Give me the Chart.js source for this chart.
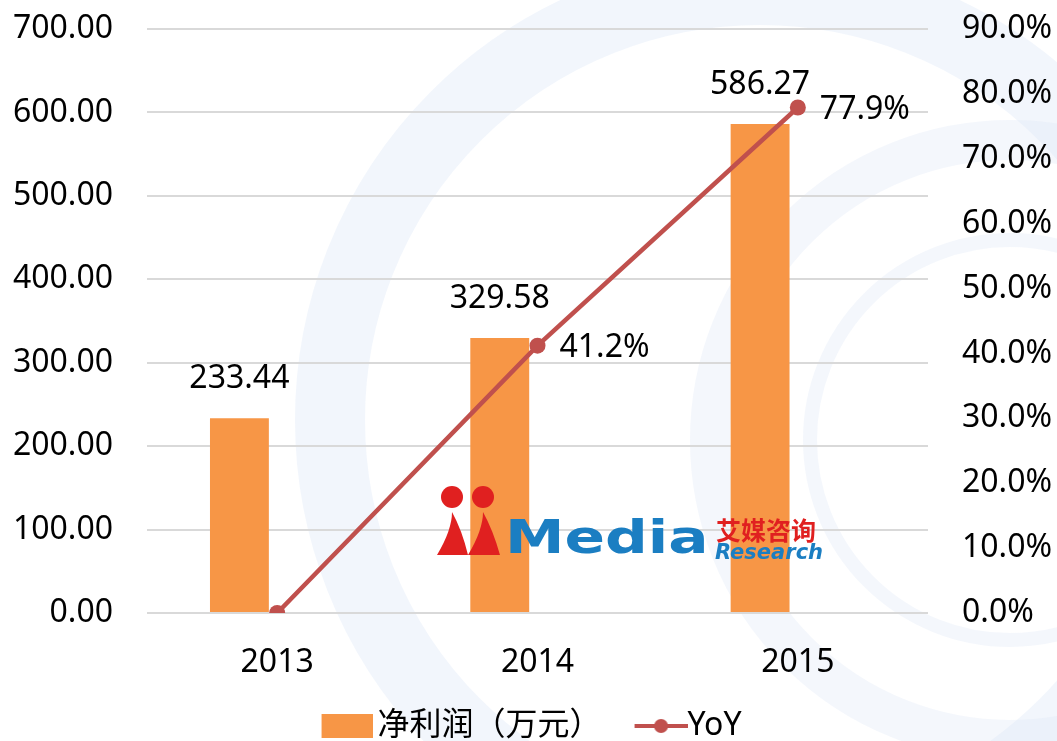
<!DOCTYPE html>
<html>
<head>
<meta charset="utf-8">
<script src="https://cdn.jsdelivr.net/npm/chart.js@4"></script>
<style>
  html, body { margin: 0; padding: 0; background: #fff; }
  #wrap { width: 1057px; height: 741px; }
</style>
</head>
<body>
<div id="wrap"><canvas id="myChart" width="1057" height="741"></canvas></div>
<script>
// 数据
const years = ['2013', '2014', '2015'];
const profit = [233.44, 329.58, 586.27];   // 净利润（万元）
const yoy = [0, 41.2, 77.9];               // YoY %
const leftTicks = [0, 700, 100];
const rightTicks = [0, 90, 10];

const FONT = '"Noto Sans", "Noto Sans CJK SC", sans-serif';
const ORANGE = '#F79646';
const RED = '#C0504D';

// legend icons (drawn a bit off-centre so the gaps match)
function makeBox() {
    const c = document.createElement('canvas');
    c.width = 68; c.height = 24;
    const g = c.getContext('2d');
    g.fillStyle = ORANGE;
    g.fillRect(17, 0, 51, 24);
    return c;
}
function makeLineIcon() {
    const c = document.createElement('canvas');
    c.width = 78; c.height = 18;
    const g = c.getContext('2d');
    g.strokeStyle = RED; g.lineWidth = 4;
    g.beginPath(); g.moveTo(25, 9); g.lineTo(78, 9); g.stroke();
    g.fillStyle = RED;
    g.beginPath(); g.arc(51.5, 9, 7, 0, Math.PI * 2); g.fill();
    return c;
}
const boxIcon = makeBox();
const lineIcon = makeLineIcon();

// 背景水印
const bgPlugin = {
    id: 'bg',
    beforeInit(chart) {
        const fit = chart.legend.fit;
        chart.legend.fit = function () {
            fit.call(this);
            this.height = 55;
        };
    },
    beforeDraw(chart) {
        const ctx = chart.ctx;
        ctx.save();
        ctx.fillStyle = '#fff';
        ctx.fillRect(0, 0, chart.width, chart.height);
        ctx.strokeStyle = 'rgba(218,230,245,0.35)';
        ctx.lineWidth = 70;
        ctx.beginPath(); ctx.arc(760, 420, 430, 0, Math.PI * 2); ctx.stroke();
        ctx.lineWidth = 40;
        ctx.strokeStyle = 'rgba(218,230,245,0.3)';
        ctx.beginPath(); ctx.arc(1010, 440, 300, 0, Math.PI * 2); ctx.stroke();
        ctx.lineWidth = 14;
        ctx.beginPath(); ctx.arc(1010, 440, 200, 0, Math.PI * 2); ctx.stroke();
        ctx.restore();
    }
};

// 数据标签 + logo
const labelPlugin = {
    id: 'labels',
    afterDatasetsDraw(chart) {
        const ctx = chart.ctx;
        ctx.save();
        // logo
        ctx.fillStyle = '#E02020';
        ctx.beginPath(); ctx.arc(452, 497, 11, 0, Math.PI * 2); ctx.fill();
        ctx.beginPath(); ctx.arc(483, 497, 11, 0, Math.PI * 2); ctx.fill();
        ctx.beginPath();
        ctx.moveTo(437, 555); ctx.quadraticCurveTo(452, 530, 452, 512);
        ctx.quadraticCurveTo(462, 530, 468, 555); ctx.closePath(); ctx.fill();
        ctx.beginPath();
        ctx.moveTo(468, 555); ctx.quadraticCurveTo(483, 530, 483, 512);
        ctx.quadraticCurveTo(493, 530, 500, 555); ctx.closePath(); ctx.fill();
        ctx.save();
        ctx.translate(505, 553);
        ctx.scale(1.3, 1);
        ctx.fillStyle = '#1B7EC2';
        ctx.font = 'bold 46px "DejaVu Sans", sans-serif';
        ctx.textBaseline = 'alphabetic';
        ctx.fillText('Media', 0, 0);
        ctx.restore();
        ctx.fillStyle = '#E02020';
        ctx.font = 'bold 25px "Noto Sans CJK SC", sans-serif';
        ctx.fillText('艾媒咨询', 716, 530);
        ctx.fillStyle = '#1B7EC2';
        ctx.font = 'italic bold 21px "DejaVu Sans", sans-serif';
        ctx.fillText('Research', 715, 554);

        // values
        ctx.fillStyle = '#000';
        ctx.font = '32px ' + FONT;
        const barMeta = chart.getDatasetMeta(0);
        ctx.textAlign = 'center';
        ctx.textBaseline = 'middle';
        barMeta.data.forEach((el, i) => {
            ctx.fillText(profit[i].toFixed(2), el.x, el.y - 39);
        });
        const lineMeta = chart.getDatasetMeta(2);
        ctx.textAlign = 'left';
        lineMeta.data.forEach((el, i) => {
            if (yoy[i] === 0) return;
            ctx.fillText(yoy[i].toFixed(1) + '%', el.x + 22, el.y + 2);
        });
        ctx.restore();
    }
};

const ctx = document.getElementById('myChart');
new Chart(ctx, {
    data: {
        labels: years,
        datasets: [
            {
                type: 'bar',
                label: '净利润（万元）',
                data: profit,
                backgroundColor: ORANGE,
                yAxisID: 'y',
                order: 2
            },
            {
                type: 'bar',
                label: '',
                data: years.map(() => null),
                backgroundColor: 'rgba(0,0,0,0)',
                yAxisID: 'y',
                order: 3
            },
            {
                type: 'line',
                label: 'YoY',
                data: yoy,
                borderColor: RED,
                backgroundColor: RED,
                borderWidth: 4.5,
                pointRadius: 8,
                pointHoverRadius: 8,
                pointBackgroundColor: RED,
                pointBorderWidth: 0,
                tension: 0,
                yAxisID: 'y1',
                order: 1
            }
        ]
    },
    options: {
        responsive: false,
        animation: false,
        datasets: {
            bar: { categoryPercentage: 0.58, barPercentage: 0.78 }
        },
        layout: { padding: { top: 29, left: 0, right: 0, bottom: 0 } },
        plugins: {
            tooltip: { enabled: false },
            legend: {
                position: 'bottom',
                labels: {
                    color: '#000',
                    font: { size: 32, family: FONT },
                    usePointStyle: true,
                    pointStyleWidth: 46,
                    boxHeight: 24,
                    padding: 24,
                    generateLabels() {
                        return [
                            { text: '净利润（万元）', pointStyle: boxIcon, fillStyle: ORANGE, strokeStyle: ORANGE, lineWidth: 0, datasetIndex: 0, fontColor: '#000' },
                            { text: 'YoY', pointStyle: lineIcon, fillStyle: RED, strokeStyle: RED, lineWidth: 0, datasetIndex: 2, fontColor: '#000' }
                        ];
                    }
                }
            }
        },
        scales: {
            x: {
                grid: { display: false, drawTicks: false },
                border: { display: false },
                ticks: { color: '#000', font: { size: 32, family: FONT }, padding: 31 },
                afterFit(scale) { scale.height = 73; }
            },
            y: {
                position: 'left',
                min: leftTicks[0], max: leftTicks[1],
                grid: { color: '#D9D9D9', lineWidth: 2, drawTicks: false },
                border: { display: false },
                ticks: {
                    stepSize: leftTicks[2],
                    color: '#000',
                    font: { size: 32, family: FONT },
                    padding: 34,
                    callback: v => v.toFixed(2)
                },
                afterFit(scale) {
                    scale.width = 147;
                    scale.paddingTop = 0;
                    scale.paddingBottom = 0;
                }
            },
            y1: {
                position: 'right',
                min: rightTicks[0], max: rightTicks[1],
                grid: { display: false, drawTicks: false },
                border: { display: false },
                ticks: {
                    stepSize: rightTicks[2],
                    color: '#000',
                    font: { size: 32, family: FONT },
                    padding: 34,
                    callback: v => v.toFixed(1) + '%'
                },
                afterFit(scale) {
                    scale.width = 129;
                    scale.paddingTop = 0;
                    scale.paddingBottom = 0;
                }
            }
        }
    },
    plugins: [bgPlugin, labelPlugin]
});
</script>
</body>
</html>
